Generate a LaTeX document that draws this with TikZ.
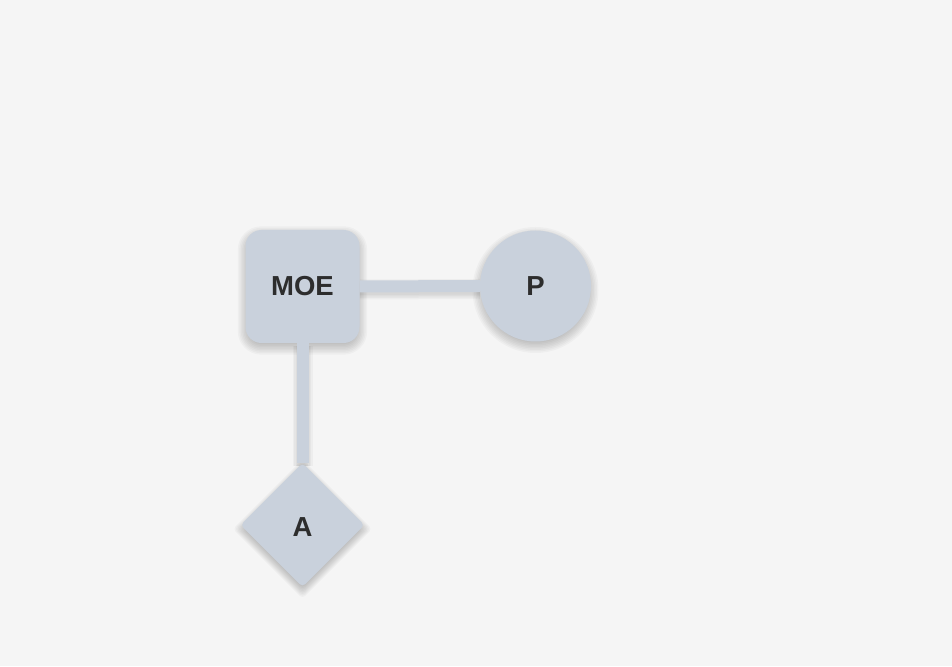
\documentclass[tikz,border=0pt]{standalone}
\usepackage{fontspec}
\setmainfont{Liberation Sans}
\usetikzlibrary{shapes.geometric,backgrounds,calc}
\definecolor{pagebg}{HTML}{F5F5F5}
\definecolor{nodefill}{HTML}{C9D1DC}
\definecolor{labelink}{HTML}{2D2D2D}
\tikzset{
  x=1pt, y=1pt,
  entity/.style={fill=nodefill, draw=none, text=labelink,
    font=\fontsize{27.5}{30}\selectfont\bfseries, inner sep=0pt},
  boxnode/.style={entity, rectangle, rounded corners=16pt,
    minimum width=114pt, minimum height=113pt},
  roundnode/.style={entity, circle, minimum size=111pt},
  kitenode/.style={entity, diamond, rounded corners=4pt,
    minimum width=124pt, minimum height=124pt},
  link/.style={draw=nodefill, line width=12pt},
  linkshade/.style={draw=black, line width=#1, opacity=0.03},
  softshade/.style={fill=black, opacity=0.028},
}
% spread of each shadow layer (pt)
\def\shadesteps{-3,-1.5,0,1.5,3,4.5,6,7.5}
\begin{document}
\begin{tikzpicture}
  \useasboundingbox (0,0) rectangle (952,666);

  \node[boxnode]   (moe) at (302.5,379.5) {MOE};
  \node[roundnode] (p)   at (535.5,380) {P};
  \node[kitenode]  (a)   at (302.5,141)   {\raisebox{-11.8pt}[0pt][0pt]{A}};

  \begin{scope}[on background layer]
    \fill[pagebg] (0,0) rectangle (952,666);
    % soft drop shadows of the nodes
    \foreach \k in \shadesteps {
      \fill[softshade, rounded corners={16pt+\k pt}]
        ($(moe.south west)+(-\k,-\k-4)$) rectangle ($(moe.north east)+(\k,\k-4)$);
      \fill[softshade] ($(p.center)+(0,-4)$) circle ({55.5+\k});
      \fill[softshade, rounded corners=4pt]
        ($(a.north)+(0,\k-4)$) -- ($(a.east)+(\k,-4)$) --
        ($(a.south)+(0,-\k-4)$) -- ($(a.west)+(-\k,-4)$) -- cycle;
    }
    % soft shadow under the links
    \foreach \w in {20pt,17pt,14pt,11pt}{
      \draw[linkshade=\w, transform canvas={yshift=-3pt}]
        (moe.east) -- (p.west);
      \draw[linkshade=\w, transform canvas={yshift=-3pt}]
        (moe.south) -- (a.north);
    }
    \draw[link] (moe.east) -- (p.west);
    \draw[link] (moe.south) -- (a.north);
  \end{scope}
\end{tikzpicture}
\end{document}
